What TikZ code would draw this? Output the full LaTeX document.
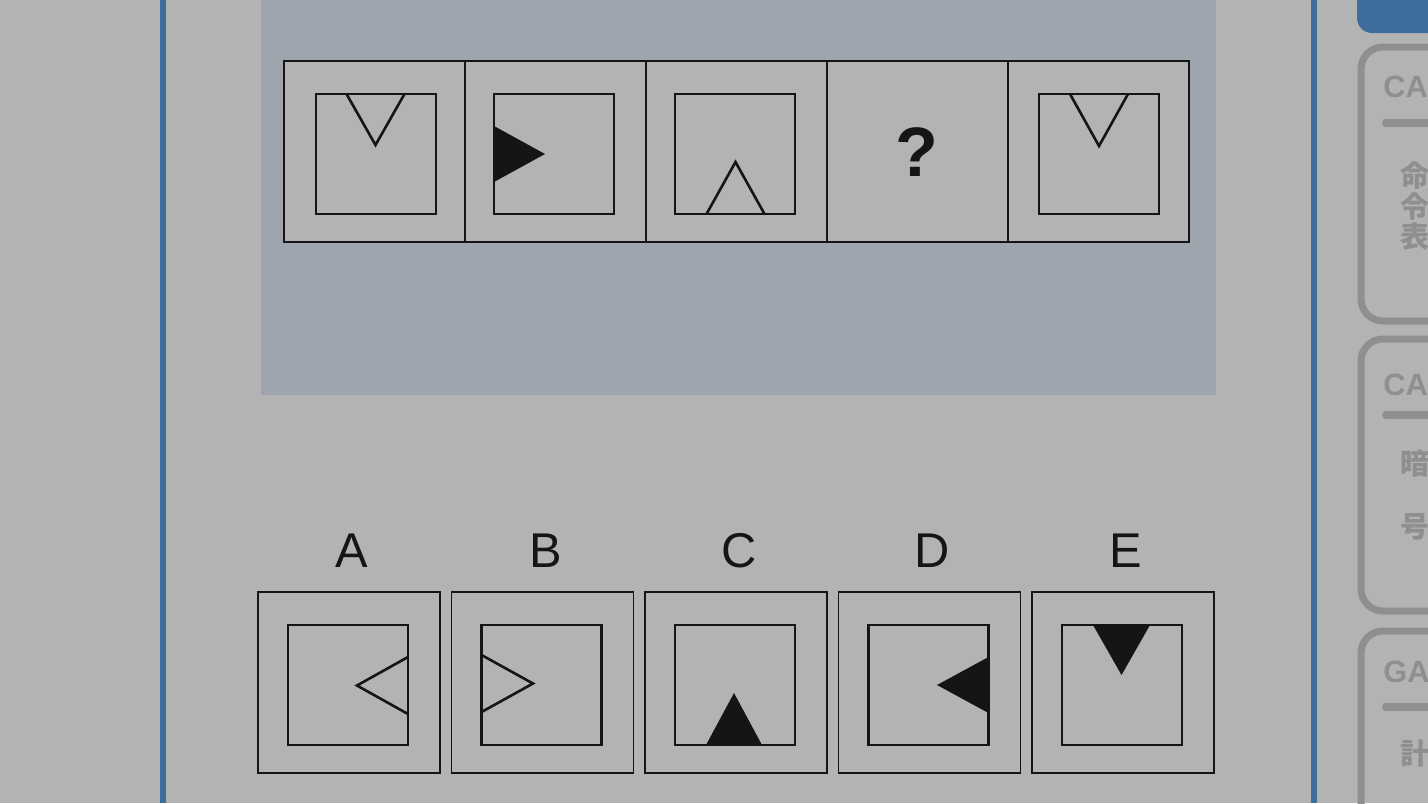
\documentclass[tikz,border=0pt]{standalone}
\usepackage{fontspec}
\setmainfont{Liberation Sans}
\newfontfamily\cjkfont{Noto Sans CJK JP}
\usetikzlibrary{positioning}
\definecolor{bgray}{HTML}{B3B3B3}
\definecolor{pgray}{HTML}{9EA5AE}
\definecolor{tblue}{HTML}{3E6C9B}
\definecolor{tabgray}{HTML}{8F8F8F}
\definecolor{ink}{HTML}{151515}

\begin{document}
\begin{tikzpicture}[x=0.5pt, y=-0.5pt,
	frame/.style={draw=ink, line width=0.9pt},
	inbox/.style={draw=ink, line width=1.4pt},
	opentri/.style={draw=ink, line width=1.3pt, line join=miter},
	filltri/.style={fill=ink},
	tab/.style={draw=tabgray, line width=3.5pt, rounded corners=11pt},
	tabtext/.style={text=tabgray, font=\bfseries\fontsize{15.4}{18}\selectfont, inner sep=0pt},
	kanji/.style={text=tabgray, font=\cjkfont\bfseries\fontsize{14.5}{16}\selectfont, inner sep=0pt},
	letter/.style={text=ink, font=\fontsize{24.4}{28}\selectfont, inner sep=0pt}]
			
			\useasboundingbox (0,0) rectangle (1428,803);
			\clip (0,0) rectangle (1428,803);
			\fill[bgray] (0,0) rectangle (1428,803);
			\fill[pgray] (261,0) rectangle (1216,395);
			\draw[tblue, line width=2.6pt] (163,0) -- (163,803);
			\draw[tblue, line width=2.6pt] (1314,0) -- (1314,803);
			
			% question row
			\draw[frame, fill=bgray] (284,61) rectangle (1189,242);
			\foreach \x in {465,646,827,1008} \draw[frame] (\x,61) -- (\x,242);
			\foreach \x in {316,494,675,1039} \draw[inbox] (\x,94) rectangle ++(120,120);
			
			\coordinate (t1a) at (346.5,94);
			\coordinate (t1b) at (375.5,145);
			\coordinate (t1c) at (404.5,94);
			\draw[opentri] (t1a)--(t1b)--(t1c);
			
			\coordinate (t2a) at (494,126);
			\coordinate (t2b) at (545,154);
			\coordinate (t2c) at (494,182);
			\fill[filltri] (t2a)--(t2b)--(t2c)--cycle;
			
			\coordinate (t3a) at (706.5,214);
			\coordinate (t3b) at (735.5,162);
			\coordinate (t3c) at (764.5,214);
			\draw[opentri] (t3a)--(t3b)--(t3c);
			
			\node[text=ink, font=\bfseries\fontsize{35}{40}\selectfont, inner sep=0pt] (qmark) at (917,152) {?};
			
			\coordinate (t5a) at (1070,94);
			\coordinate (t5b) at (1099,146);
			\coordinate (t5c) at (1128,94);
			\draw[opentri] (t5a)--(t5b)--(t5c);
			
			% answer row
			\foreach \l [count=\i from 0] in {A,B,C,D,E}{
				\node[letter] (opt\l) at ({352+193.5*\i},550.5) {\l};
				\draw[frame] ({258+193.5*\i},592) rectangle ++(182,181);
				\draw[inbox] ({288+193.5*\i},625) rectangle ++(120,120);
			}
			
			\coordinate (aa) at (408,657);
			\coordinate (ab) at (357,685.5);
			\coordinate (ac) at (408,714);
			\draw[opentri] (aa)--(ab)--(ac);
			
			\coordinate (ba) at (481.5,655);
			\coordinate (bb) at (533,683.5);
			\coordinate (bc) at (481.5,712);
			\draw[opentri] (ba)--(bb)--(bc);
			
			\coordinate (ca) at (706,745);
			\coordinate (cb) at (734,693);
			\coordinate (cc) at (762,745);
			\fill[filltri] (ca)--(cb)--(cc)--cycle;
			
			\coordinate (da) at (988.5,657);
			\coordinate (db) at (937,685);
			\coordinate (dc) at (988.5,713);
			\fill[filltri] (da)--(db)--(dc)--cycle;
			
			\coordinate (ea) at (1093,625);
			\coordinate (eb) at (1121.5,675);
			\coordinate (ec) at (1150,625);
			\fill[filltri] (ea)--(eb)--(ec)--cycle;
			
			% side tabs
			\fill[tblue, rounded corners=7.5pt] (1357,-40) rectangle (1480,33);
			\draw[tab] (1361,47) rectangle (1480,321);
			\draw[tab] (1361,339) rectangle (1480,611);
			\draw[tab] (1361,631) rectangle (1480,880);
			\foreach \y in {123,415,707} \draw[tabgray, line width=4pt, line cap=round] (1386,\y) -- (1440,\y);
			
			\node[tabtext, anchor=base west] (tab1) at (1383,97) {CA};
			\node[tabtext, anchor=base west] (tab2) at (1383,395) {CA};
			\node[tabtext, anchor=base west] (tab3) at (1383,682) {GA};
			
			\node[kanji, anchor=west] (k1) at (1400,176) {命};
			\node[kanji, anchor=west] (k2) at (1400,206) {令};
			\node[kanji, anchor=west] (k3) at (1400,236) {表};
			\node[kanji, anchor=west] (k4) at (1400,463.5) {暗};
			\node[kanji, anchor=west] (k5) at (1400,526.5) {号};
			\node[kanji, anchor=west] (k6) at (1400,753.5) {計};
		\end{tikzpicture}
\end{document}
